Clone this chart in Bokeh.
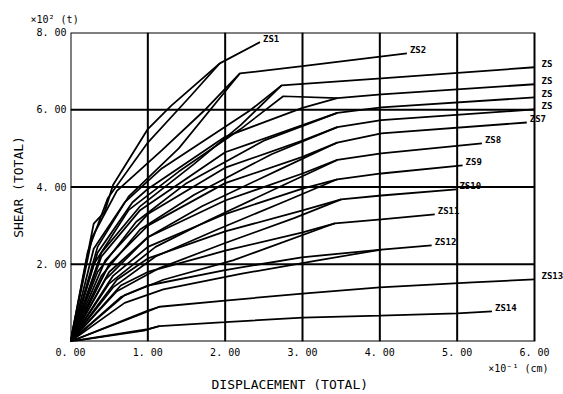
from bokeh.plotting import figure
from bokeh.models import Label, Range1d, FixedTicker, Title, BoxAnnotation
from bokeh.embed import file_html
from bokeh.resources import INLINE

# ---- data: displacement (x10^-1 cm) vs shear (x10^2 t) ----
ZS1_X = [0, 0.30, 0.44, 0.55, 1.00, 1.30, 1.93, 2.45]
ZS1_Y = [0, 3.05, 3.35, 4.05, 5.50, 6.10, 7.20, 7.75]
ZS2_X = [0, 0.28, 0.60, 1.18, 1.73, 2.19, 3.00, 4.35]
ZS2_Y = [0, 2.70, 3.90, 4.95, 5.98, 6.94, 7.13, 7.46]
ZS3_X = [0, 0.30, 0.70, 1.18, 2.32, 2.73, 4.02, 6.00]
ZS3_Y = [0, 2.40, 3.60, 4.48, 5.98, 6.63, 6.81, 7.10]
ZS4_X = [0, 0.35, 0.80, 1.00, 2.00, 3.00, 3.45, 4.02, 6.00]
ZS4_Y = [0, 2.30, 3.60, 3.95, 5.30, 6.05, 6.30, 6.40, 6.66]
ZS5_X = [0, 0.40, 0.90, 2.00, 3.00, 3.45, 4.02, 6.00]
ZS5_Y = [0, 2.20, 3.40, 4.90, 5.60, 5.92, 6.06, 6.32]
ZS6_X = [0, 0.45, 1.00, 2.00, 3.00, 3.45, 4.02, 6.00]
ZS6_Y = [0, 2.10, 3.30, 4.50, 5.20, 5.55, 5.73, 6.01]
ZS7_X = [0, 0.50, 1.00, 2.00, 3.00, 3.45, 4.02, 5.90]
ZS7_Y = [0, 2.00, 3.00, 4.10, 4.78, 5.15, 5.39, 5.67]
ZS8_X = [0, 0.50, 1.00, 2.00, 3.00, 3.45, 4.02, 5.32]
ZS8_Y = [0, 1.80, 2.70, 3.65, 4.35, 4.70, 4.87, 5.13]
ZS9_X = [0, 0.55, 1.00, 2.00, 3.00, 3.45, 4.02, 5.07]
ZS9_Y = [0, 1.70, 2.45, 3.30, 3.96, 4.20, 4.35, 4.56]
ZS10_X = [0, 0.60, 1.00, 2.00, 2.99, 3.50, 4.02, 4.99]
ZS10_Y = [0, 1.60, 2.15, 2.85, 3.39, 3.68, 3.78, 3.94]
ZS11_X = [0, 0.65, 1.00, 2.00, 2.99, 3.42, 4.02, 4.71]
ZS11_Y = [0, 1.45, 1.80, 2.35, 2.82, 3.06, 3.16, 3.29]
ZS12_X = [0, 0.70, 1.00, 2.00, 2.99, 4.02, 4.67]
ZS12_Y = [0, 1.20, 1.45, 1.85, 2.18, 2.38, 2.49]
ZS13_X = [0, 1.00, 1.15, 2.00, 3.00, 4.00, 5.20, 6.00]
ZS13_Y = [0, 0.80, 0.90, 1.06, 1.24, 1.40, 1.53, 1.61]
ZS14_X = [0, 1.00, 1.15, 2.00, 3.00, 4.00, 5.00, 5.45]
ZS14_Y = [0, 0.32, 0.40, 0.50, 0.62, 0.67, 0.73, 0.78]

# companion (second) curves of each specimen
ZS1B_X = [0, 0.22, 0.48, 1.00, 1.55, 1.93]
ZS1B_Y = [0, 2.30, 3.70, 5.15, 6.35, 7.20]
ZS2B_X = [0, 0.35, 0.75, 1.40, 2.19]
ZS2B_Y = [0, 2.45, 3.75, 5.00, 6.94]
ZS3B_X = [0, 0.40, 0.90, 1.60, 2.20, 2.73]
ZS3B_Y = [0, 2.30, 3.50, 4.60, 5.60, 6.63]
ZS4B_X = [0, 0.30, 0.75, 1.40, 2.20, 2.75, 3.45]
ZS4B_Y = [0, 2.00, 3.40, 4.40, 5.50, 6.35, 6.30]
ZS5B_X = [0, 0.35, 0.85, 1.50, 2.50, 3.45]
ZS5B_Y = [0, 1.80, 3.10, 4.10, 5.20, 5.92]
ZS6B_X = [0, 0.40, 0.90, 1.60, 2.60, 3.45]
ZS6B_Y = [0, 1.70, 2.90, 3.80, 4.85, 5.55]
ZS7B_X = [0, 0.45, 1.00, 1.70, 2.70, 3.45]
ZS7B_Y = [0, 1.60, 2.70, 3.50, 4.45, 5.15]
ZS8B_X = [0, 0.50, 1.10, 1.80, 2.70, 3.45]
ZS8B_Y = [0, 1.50, 2.45, 3.15, 4.00, 4.70]
ZS9B_X = [0, 0.55, 1.10, 1.90, 2.80, 3.45]
ZS9B_Y = [0, 1.40, 2.20, 2.90, 3.65, 4.20]
ZS10B_X = [0, 0.60, 1.15, 2.00, 2.90, 3.50]
ZS10B_Y = [0, 1.30, 1.90, 2.55, 3.20, 3.68]
ZS11B_X = [0, 0.65, 1.20, 2.10, 3.42]
ZS11B_Y = [0, 1.15, 1.60, 2.10, 3.06]
ZS12B_X = [0, 0.70, 1.20, 2.20, 3.20, 4.02]
ZS12B_Y = [0, 1.00, 1.35, 1.75, 2.10, 2.38]
ZS13B_X = [0, 0.90, 1.15]
ZS13B_Y = [0, 0.70, 0.90]
ZS14B_X = [0, 0.95, 1.15]
ZS14B_Y = [0, 0.28, 0.40]

LABELS = ["ZS1", "ZS2", "ZS", "ZS", "ZS", "ZS", "ZS7", "ZS8", "ZS9",
          "ZS10", "ZS11", "ZS12", "ZS13", "ZS14"]
X_TICKS = [0, 1, 2, 3, 4, 5, 6]
X_TICK_LABELS = ["0. 00", "1. 00", "2. 00", "3. 00", "4. 00", "5. 00", "6. 00"]
Y_TICKS = [0, 2, 4, 6, 8]
Y_TICK_LABELS = ["", "2. 00", "4. 00", "6. 00", "8. 00"]

main = [(ZS1_X, ZS1_Y), (ZS2_X, ZS2_Y), (ZS3_X, ZS3_Y), (ZS4_X, ZS4_Y),
        (ZS5_X, ZS5_Y), (ZS6_X, ZS6_Y), (ZS7_X, ZS7_Y), (ZS8_X, ZS8_Y),
        (ZS9_X, ZS9_Y), (ZS10_X, ZS10_Y), (ZS11_X, ZS11_Y), (ZS12_X, ZS12_Y),
        (ZS13_X, ZS13_Y), (ZS14_X, ZS14_Y)]
comp = [(ZS1B_X, ZS1B_Y), (ZS2B_X, ZS2B_Y), (ZS3B_X, ZS3B_Y), (ZS4B_X, ZS4B_Y),
        (ZS5B_X, ZS5B_Y), (ZS6B_X, ZS6B_Y), (ZS7B_X, ZS7B_Y), (ZS8B_X, ZS8B_Y),
        (ZS9B_X, ZS9B_Y), (ZS10B_X, ZS10B_Y), (ZS11B_X, ZS11B_Y), (ZS12B_X, ZS12B_Y),
        (ZS13B_X, ZS13B_Y), (ZS14B_X, ZS14B_Y)]

FONT = "DejaVu Sans Mono"
XMIN, XMAX = X_TICKS[0], X_TICKS[-1]
YMIN, YMAX = Y_TICKS[0], Y_TICKS[-1]

# frame is extended past x=6 so the end labels of the curves stay visible
p = figure(width=563, height=394, output_backend="svg", toolbar_location=None,
           x_range=Range1d(XMIN, 6.375), y_range=Range1d(YMIN, YMAX),
           min_border_left=70, min_border_right=0, min_border_top=32,
           min_border_bottom=53)
p.background_fill_color = "white"
p.border_fill_color = "white"
p.outline_line_color = None
p.xgrid.visible = False
p.ygrid.visible = False

p.xaxis.ticker = FixedTicker(ticks=X_TICKS)
p.xaxis.major_label_overrides = {t: l for t, l in zip(X_TICKS, X_TICK_LABELS)}
p.yaxis.ticker = FixedTicker(ticks=Y_TICKS)
p.yaxis.major_label_overrides = {t: l for t, l in zip(Y_TICKS, Y_TICK_LABELS)}
for ax in (p.xaxis, p.yaxis):
    ax.axis_line_color = None
    ax.major_tick_line_color = None
    ax.minor_tick_line_color = None
    ax.major_tick_out = 0
    ax.major_tick_in = 0
    ax.minor_tick_out = 0
    ax.major_label_text_font = FONT
    ax.major_label_text_font_size = "10px"
    ax.major_label_text_color = "black"
p.xaxis.major_label_standoff = 5
p.yaxis.major_label_standoff = 4
p.yaxis.axis_label = "SHEAR (TOTAL)"
p.yaxis.axis_label_text_font = FONT
p.yaxis.axis_label_text_font_size = "13px"
p.yaxis.axis_label_text_font_style = "normal"
p.yaxis.axis_label_text_color = "black"
p.yaxis.axis_label_standoff = 7

# grid lines inside the 0..6 x 0..8 box
inner_x = X_TICKS[1:-1]
inner_y = Y_TICKS[1:-1]
p.segment(x0=inner_x, y0=[YMIN] * len(inner_x), x1=inner_x, y1=[YMAX] * len(inner_x),
          line_color="black", line_width=2)
p.segment(x0=[XMIN] * len(inner_y), y0=inner_y, x1=[XMAX] * len(inner_y), y1=inner_y,
          line_color="black", line_width=2)
p.add_layout(BoxAnnotation(left=XMIN, right=XMAX, bottom=YMIN, top=YMAX,
                           fill_alpha=0, line_color="black", line_alpha=1,
                           line_width=2))

for xs, ys in comp:
    p.line(xs, ys, line_color="black", line_width=1.7)
for xs, ys in main:
    p.line(xs, ys, line_color="black", line_width=1.8)

for (xs, ys), lab in zip(main, LABELS):
    xoff = 7 if xs[-1] >= XMAX else 3
    p.add_layout(Label(x=xs[-1], y=ys[-1], text=lab, x_offset=xoff, y_offset=3,
                       text_font=FONT, text_font_size="9px", text_font_style="bold",
                       text_baseline="middle", text_align="left", text_color="black"))

p.add_layout(Title(text="×10² (t)", align="left", offset=-40, standoff=16,
                   text_font=FONT, text_font_size="10px", text_font_style="normal",
                   text_color="black"),
             "above")
p.add_layout(Title(text="×10⁻¹ (cm)", align="right", offset=15, standoff=2,
                   vertical_align="middle", text_color="black",
                   text_font=FONT, text_font_size="10px", text_font_style="normal"),
             "below")
p.add_layout(Title(text="DISPLACEMENT (TOTAL)", align="left", offset=141, standoff=1,
                   vertical_align="middle", text_color="black",
                   text_font=FONT, text_font_size="13px", text_font_style="normal"),
             "below")

open("out.html", "w").write(file_html(p, INLINE))
